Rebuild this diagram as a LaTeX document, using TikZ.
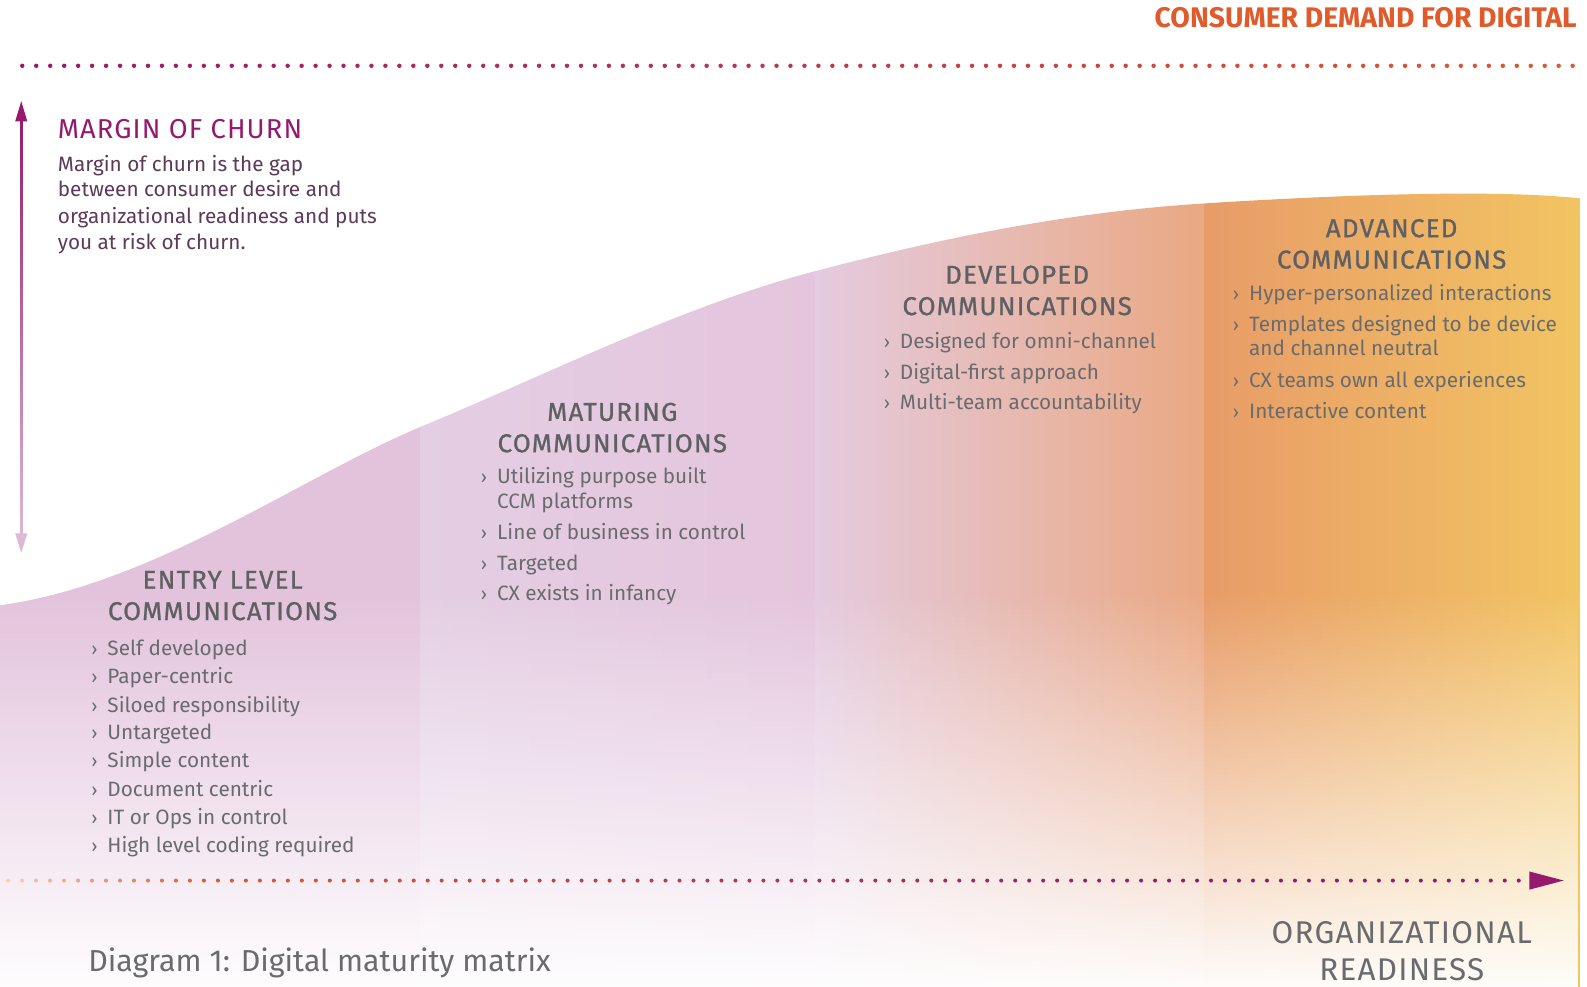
\documentclass[tikz,border=0pt]{standalone}
\usepackage{fontspec}
\setmainfont{Fira Sans}
\newfontfamily\capsfont[LetterSpace=4]{Fira Sans}
\newfontfamily\headfont[LetterSpace=5,FakeBold=1]{Fira Sans}
\usetikzlibrary{fadings}

\definecolor{ChurnPurple}{HTML}{951A6E}
\definecolor{DemandOrange}{HTML}{E05A2B}
\definecolor{PaleDot}{HTML}{F6CDB8}
\definecolor{PalePink}{HTML}{DDB9D6}
\definecolor{BodyPurple}{HTML}{5C3A59}
\definecolor{HeadGray}{HTML}{5F6063}
\definecolor{ItemGray}{HTML}{6A6B6E}
\definecolor{EntryPink}{HTML}{E3C3DC}
\definecolor{MaturingLeft}{HTML}{E4CEE3}
\definecolor{MaturingRight}{HTML}{E4C5DD}
\definecolor{DevelopedLeft}{HTML}{E4CBE0}
\definecolor{DevelopedRight}{HTML}{EAA882}
\definecolor{AdvancedLeft}{HTML}{E89C68}
\definecolor{AdvancedRight}{HTML}{F2C462}

\tikzfading[name=fade down, top color=transparent!100, middle color=transparent!30, bottom color=transparent!3]

\tikzset{
    stagehead/.style={font=\headfont\fontsize{25.5}{31}\selectfont, text=HeadGray, align=center, inner sep=0pt},
    itemtext/.style={font=\fontsize{20.5}{25}\selectfont, text=ItemGray, anchor=mid west, inner sep=0pt, yshift=-4pt},
    chevron/.style={font=\fontsize{18}{25}\selectfont, text=ItemGray, anchor=mid west, inner sep=0pt, yshift=-4pt},
    churntext/.style={font=\fontsize{20.5}{25}\selectfont, text=BodyPurple, anchor=mid west, inner sep=0pt, yshift=-4pt},
}

\newcommand\StageItem[4]{%
    \node[chevron] (#1c) at (#2,#3) {›};
    \node[itemtext] (#1) at (#2+16,#3) {#4};
}

\begin{document}
\begin{tikzpicture}[x=1pt,y=-1pt]
    \useasboundingbox (0,0) rectangle (1568,975);
    \fill[white] (0,0) rectangle (1568,975);
    \begin{scope} % stages
        \clip (0,598) .. controls (150,578) and (300,470) .. (415,422)
            .. controls (545,368) and (675,302) .. (805,268)
            .. controls (935,234) and (1060,209) .. (1190,201)
            .. controls (1300,194) and (1470,186) .. (1561,196)
            -- (1561,975) -- (0,975) -- cycle;
        \fill[EntryPink] (0,150) rectangle (415,975);
        \shade[left color=MaturingLeft, right color=MaturingRight] (415,150) rectangle (805,975);
        \shade[left color=DevelopedLeft, right color=DevelopedRight] (805,150) rectangle (1190,975);
        \shade[left color=AdvancedLeft, right color=AdvancedRight] (1190,150) rectangle (1561,975);
        \fill[white, path fading=fade down] (0,585) rectangle (1561,975);
    \end{scope}
    % demand line
    \foreach \i in {0,...,111} {
        \pgfmathsetmacro\p{100-100*\i/111}
        \fill[ChurnPurple!\p!DemandOrange] (22+13.8*\i,65) circle (2.2);
    }
    % readiness line
    \foreach \i in {0,...,14} {
        \pgfmathsetmacro\p{100*\i/14}
        \fill[DemandOrange!\p!PaleDot] (8+13.82*\i,870) circle (2);
    }
    \foreach \i in {15,...,108} {
        \pgfmathsetmacro\p{min(100,100*(\i-14)/69)}
        \fill[ChurnPurple!\p!DemandOrange] (8+13.82*\i,870) circle (2);
    }
    \fill[ChurnPurple] (1511,861) -- (1545,870) -- (1511,879) -- cycle;
    % churn arrow
    \coordinate (ChurnTop) at (21,100);
    \coordinate (ChurnBottom) at (21,546);
    \shade[top color=ChurnPurple, bottom color=PalePink] (20,115) rectangle (22,532);
    \fill[ChurnPurple] (ChurnTop) -- ++(-6,20) -- ++(12,0) -- cycle;
    \fill[PalePink] (ChurnBottom) -- ++(-6,-19) -- ++(12,0) -- cycle;

    \node[font=\bfseries\fontsize{28}{30}\selectfont, text=DemandOrange, anchor=east, inner sep=0pt] (demand) at (1558,17) {CONSUMER DEMAND FOR DIGITAL};
    \node[font=\capsfont\fontsize{27}{30}\selectfont, text=ChurnPurple, anchor=west, inner sep=0pt] (churnhead) at (57,128) {MARGIN OF CHURN};
    \node[churntext] (churn1) at (57,163) {Margin of churn is the gap};
    \node[churntext] (churn2) at (57,188) {between consumer desire and};
    \node[churntext] (churn3) at (57,214) {organizational readiness and puts};
    \node[churntext] (churn4) at (57,240) {you at risk of churn.};

    \node[stagehead] (entry) at (220,588.5) {ENTRY LEVEL\\COMMUNICATIONS};
    \StageItem{e1}{90}{641}{Self developed}
    \StageItem{e2}{90}{669}{Paper-centric}
    \StageItem{e3}{90}{697}{Siloed responsibility}
    \StageItem{e4}{90}{724}{Untargeted}
    \StageItem{e5}{90}{752}{Simple content}
    \StageItem{e6}{90}{780}{Document centric}
    \StageItem{e7}{90}{808}{IT or Ops in control}
    \StageItem{e8}{90}{836}{High level coding required}

    \node[stagehead] (maturing) at (605,422.5) {MATURING\\COMMUNICATIONS};
    \StageItem{m1}{475}{471}{Utilizing purpose built}
    \node[itemtext] (m1b) at (491,496) {CCM platforms};
    \StageItem{m2}{475}{526}{Line of business in control}
    \StageItem{m3}{475}{557}{Targeted}
    \StageItem{m4}{475}{587}{CX exists in infancy}

    \node[stagehead] (developed) at (1005,287) {DEVELOPED\\COMMUNICATIONS};
    \StageItem{d1}{873}{338}{Designed for omni-channel}
    \StageItem{d2}{873}{368}{Digital-first approach}
    \StageItem{d3}{873}{398}{Multi-team accountability}

    \node[stagehead] (advanced) at (1375,241) {ADVANCED\\COMMUNICATIONS};
    \StageItem{a1}{1218}{290}{Hyper-personalized interactions}
    \StageItem{a2}{1218}{321}{Templates designed to be device}
    \node[itemtext] (a2b) at (1234,345) {and channel neutral};
    \StageItem{a3}{1218}{376}{CX teams own all experiences}
    \StageItem{a4}{1218}{407}{Interactive content}

    \node[font=\capsfont\fontsize{31}{36}\selectfont, text=ItemGray, align=center, inner sep=0pt] (readiness) at (1385,940) {ORGANIZATIONAL\\READINESS};
    \node[font=\fontsize{30}{36}\selectfont, text=ItemGray, anchor=mid west, inner sep=0pt] (caption) at (87,957) {Diagram 1: Digital maturity matrix};
\end{tikzpicture}
\end{document}
